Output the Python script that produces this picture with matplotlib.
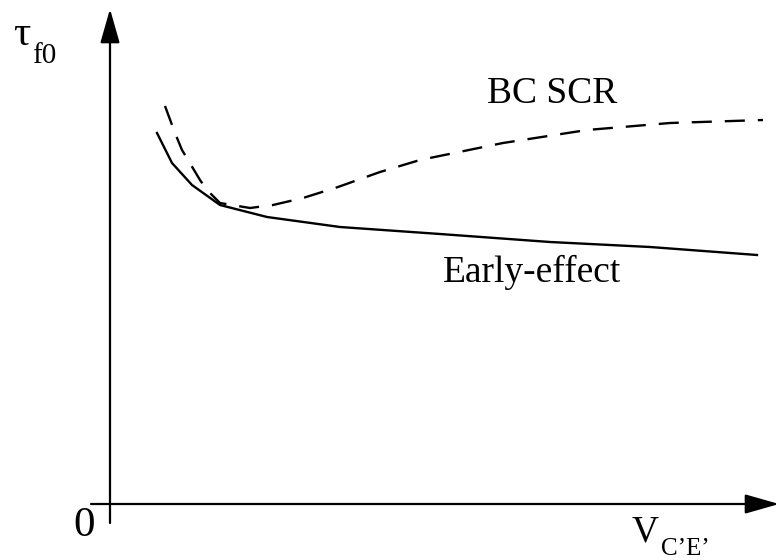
import matplotlib
matplotlib.use('Agg')
import matplotlib.pyplot as plt

plt.rc('font', family='Liberation Serif')

# transit time vs. internal C-E voltage (arbitrary units, origin at axis crossing)
v_early = [47, 62, 82, 110, 157, 230, 330, 440, 540, 647]
tau_early = [371, 341, 319, 299, 287, 277, 270, 262, 257, 249]

v_scr = [55, 65, 72, 90, 97, 110, 140, 163, 193, 228, 270, 310, 393, 477, 560, 653]
tau_scr = [398, 371, 354, 324, 314, 301, 296, 299, 306, 317, 332, 344, 361, 374, 381, 384]

lbl_scr = "BC SCR"
lbl_early = "Early-effect"

fig = plt.figure(figsize=(7.8, 5.6), dpi=100)
ax = fig.add_axes([0, 0, 1, 1])
ax.set_xlim(-110, 670)
ax.set_ylim(-56, 504)
ax.axis('off')

# axes with arrow heads
arrow = dict(arrowstyle='-|>,head_length=1.05,head_width=0.3', mutation_scale=20,
             lw=1.6, color='black', shrinkA=0, shrinkB=0)
ax.annotate('', xy=(0, 495), xytext=(0, -19), arrowprops=arrow)
ax.annotate('', xy=(669, 0), xytext=(-19, 0), arrowprops=arrow)

ax.plot(v_early, tau_early, color='black', lw=1.7)
ax.plot(v_scr, tau_scr, color='black', lw=1.7, dashes=(8.5, 5.5))

ax.text(442, 401, lbl_scr, fontsize=27, ha='center', va='baseline')
ax.text(422, 222, lbl_early, fontsize=27, ha='center', va='baseline')

ax.text(-15, -32, "0", fontsize=31, ha='right', va='baseline')
ax.text(-97, 459, "τ", fontsize=31, ha='left', va='baseline')
ax.text(-78, 441, "f0", fontsize=21, ha='left', va='baseline')
ax.text(522, -38, "V", fontsize=27, ha='left', va='baseline')
ax.text(551, -51, "C’E’", fontsize=18, ha='left', va='baseline')

plt.savefig('out.png', dpi=100)
